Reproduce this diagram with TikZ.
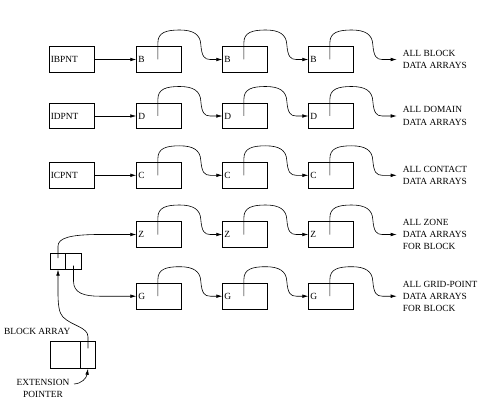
\documentclass[tikz,border=0pt]{standalone}
\usepackage{fontspec}
\setmainfont{Liberation Serif}
\usetikzlibrary{calc,arrows.meta}

% one link of a chain: rises from inside box #1, loops over and drops onto #2
\newcommand\chainlink[2]{%
  \draw[link]
    ($(#1.west)+(21.6,0)$) -- ($(#1.west)+(21.6,-17)$)
    .. controls ($(#1.west)+(21.6,-27)$) and ($(#1.west)+(30,-29.5)$) .. ($(#1.west)+(43.3,-29.5)$)
    .. controls ($(#1.west)+(57,-29.5)$) and ($(#1.west)+(64,-25)$) .. ($(#1.west)+(64.5,-15)$)
    .. controls ($(#1.west)+(65.5,-3)$) and ($(#1.west)+(68,0)$) .. ($(#1.west)+(74,0)$)
    -- (#2);}

\begin{document}
\begin{tikzpicture}[x=1pt,y=-1pt,
  every node/.style={font=\fontsize{9.4}{12.2}\selectfont},
  box/.style={draw,line width=0.9pt,minimum height=25.6pt,text width=41.5pt,
              inner xsep=1.5pt,inner ysep=0pt,align=left},
  cell/.style={draw,line width=0.9pt,inner sep=0pt},
  tag/.style={anchor=west,inner xsep=6pt,inner ysep=0pt,align=left},
  link/.style={line width=0.6pt,-{Latex[length=6pt,width=3.6pt]}},
  pointer/.style={line width=0.7pt,-{Latex[length=6pt,width=3.6pt]}}]
\useasboundingbox (0,0) rectangle (486,414);

% pointer words
\node[box,text width=42pt] (p1) at (71.8,59.5)  {IBPNT};
\node[box,text width=42pt] (p2) at (71.8,116)   {IDPNT};
\node[box,text width=42pt] (p3) at (71.8,175.3) {ICPNT};

% data array chains
\foreach \r/\y/\t in {1/59.5/B, 2/116/D, 3/175.3/C, 4/234.5/Z, 5/296.2/G}{
  \node[box] (b\r1) at (159,\y) {\t};
  \node[box] (b\r2) at (245,\y) {\t};
  \node[box] (b\r3) at (331,\y) {\t};
}

% chain end labels
\node[tag] (t1) at (396.7,59.5)  {ALL BLOCK\\DATA ARRAYS};
\node[tag] (t2) at (396.7,116)   {ALL DOMAIN\\DATA ARRAYS};
\node[tag] (t3) at (396.7,175.3) {ALL CONTACT\\DATA ARRAYS};
\node[tag] (t4) at (396.7,234.5) {ALL ZONE\\DATA ARRAYS\\FOR BLOCK};
\node[tag] (t5) at (396.7,296.2) {ALL GRID-POINT\\DATA ARRAYS\\FOR BLOCK};

\draw[pointer] (p1.east) -- (b11.west);
\draw[pointer] (p2.east) -- (b21.west);
\draw[pointer] (p3.east) -- (b31.west);

\foreach \r in {1,...,5}{
  \chainlink{b\r1}{b\r2.west}
  \chainlink{b\r2}{b\r3.west}
  \chainlink{b\r3}{t\r.west}
}

% two-word block entry
\node[cell,minimum width=15.5pt,minimum height=16pt] (sa) at (58,261.2) {};
\node[cell,minimum width=15.5pt,minimum height=16pt] (sb) at (73.5,261.2) {};

% block array with its extension pointer word
\node[cell,minimum width=30pt,minimum height=27pt] (ba) at (65.3,354.8) {};
\node[cell,minimum width=15.4pt,minimum height=27pt] (bb) at (88,354.8) {};

\node[anchor=west,inner sep=0pt] (lblk) at (4,331.7) {BLOCK ARRAY};
\node[align=center,inner sep=0pt] (lext) at (43,388.6) {EXTENSION\\POINTER};
\coordinate (xs) at (74,384);

\draw[link] ($(sa.center)+(0,-3)$) -- ($(sa.center)+(0,-15)$)
  .. controls ($(sa.center)+(0,-23)$) and ($(b41.west)+(-66.75,0)$) .. ($(b41.west)+(-36.75,0)$)
  -- (b41.west);
\draw[link] ($(sb.center)+(0,4.5)$) -- ($(sb.center)+(0,20)$)
  .. controls ($(sb.center)+(0,32)$) and ($(b51.west)+(-52,0)$) .. ($(b51.west)+(-36.75,0)$)
  -- (b51.west);
\draw[link] ($(bb.center)+(0,-6.5)$) -- ($(bb.north)+(0,-4)$)
  .. controls (88,327) and (72,326) .. (63,317)
  .. controls (59,313) and (58,305) .. (58,292)
  -- (sa.south);
\draw[link] (xs) .. controls (82,383.5) and (86.5,378) .. (bb.south);
\end{tikzpicture}
\end{document}
